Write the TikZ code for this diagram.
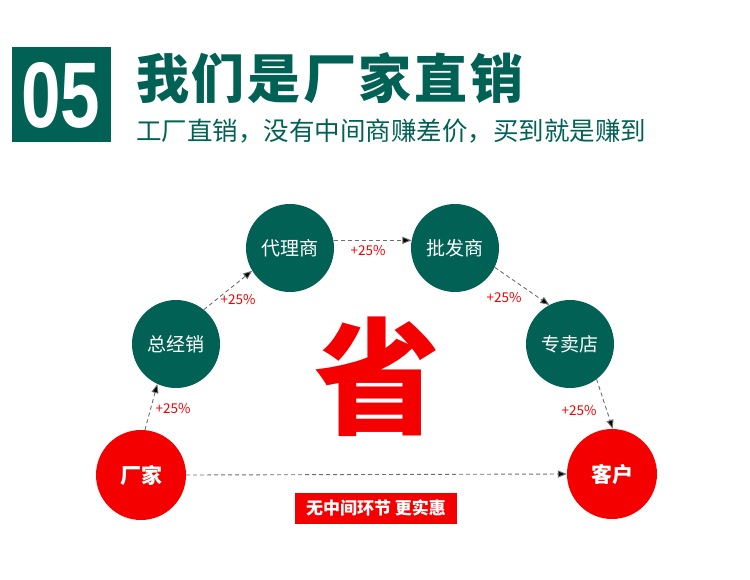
\documentclass[tikz,border=0pt]{standalone}
\usepackage{fontspec}
\usetikzlibrary{arrows.meta}
\setmainfont{Noto Sans CJK SC}
\newfontfamily\numfont{Liberation Sans}
\definecolor{brandgreen}{RGB}{0,97,84}
\definecolor{savered}{RGB}{245,0,0}
\definecolor{flowgray}{RGB}{110,110,110}

\begin{document}
\begin{tikzpicture}[x=1pt, y=-1pt,
    stage/.style={circle, fill=brandgreen, text=white, inner sep=0pt, minimum size=88pt,
      font=\fontsize{19}{19}\selectfont},
    endpoint/.style={circle, fill=savered, text=white, inner sep=0pt, minimum size=90pt,
      font=\fontsize{21}{21}\selectfont\bfseries},
    flow/.style={draw=flowgray, dashed, dash pattern=on 4pt off 3pt, line width=0.9pt,
      -{Triangle[length=9pt,width=7pt,fill=black]}},
    rate/.style={text=savered, inner sep=0pt, font=\fontsize{13.5}{13.5}\selectfont}]
  \useasboundingbox (0,0) rectangle (750,579);
  \fill[brandgreen] (12,47) rectangle (111,142);
  \node[text=white, inner sep=0pt] (num) at (61,95)
    {\resizebox{79pt}{65pt}{\numfont\bfseries 05}};
  \node[anchor=west, text=brandgreen, inner sep=0pt, text height=44pt, text depth=4pt,
    font=\fontsize{53}{53}\selectfont\bfseries\addfontfeature{LetterSpace=5}] (title) at (136,78) {我们是厂家直销};
  \node[anchor=west, text=brandgreen, inner sep=0pt, text height=22pt, text depth=3pt,
    font=\fontsize{25.5}{25.5}\selectfont] (sub) at (136,131) {工厂直销，没有中间商赚差价，买到就是赚到};

  \node[endpoint] (cj) at (141,475) {厂家};
  \node[stage] (zjx) at (176,344) {总经销};
  \node[stage] (dl) at (290,248) {代理商};
  \node[stage] (pf) at (455,248) {批发商};
  \node[stage] (zmd) at (570,344) {专卖店};
  \node[endpoint] (kh) at (612,474) {客户};

  \node[text=savered, inner sep=0pt, font=\fontsize{126}{126}\selectfont\bfseries]
    (sheng) at (377,377) {省};

  \draw[flow] (cj.85) -- (zjx.245);
  \draw[flow] (zjx.51) -- (dl.211);
  \draw[flow] (dl.10) -- (pf.170);
  \draw[flow] (pf.334) -- (zmd.118);
  \draw[flow] (zmd.307) -- (kh.89);
  \draw[flow] (cj.east) -- (kh.west);

  \node[rate] (r1) at (173,409) {+25\%};
  \node[rate] (r2) at (238,300) {+25\%};
  \node[rate] (r3) at (368,251) {+25\%};
  \node[rate] (r4) at (504,298) {+25\%};
  \node[rate] (r5) at (579,411) {+25\%};

  \node[fill=savered, text=white, minimum width=162pt, minimum height=31pt, inner sep=0pt,
    font=\fontsize{17}{17}\selectfont\bfseries] (note) at (376,508) {无中间环节 更实惠};
\end{tikzpicture}
\end{document}
